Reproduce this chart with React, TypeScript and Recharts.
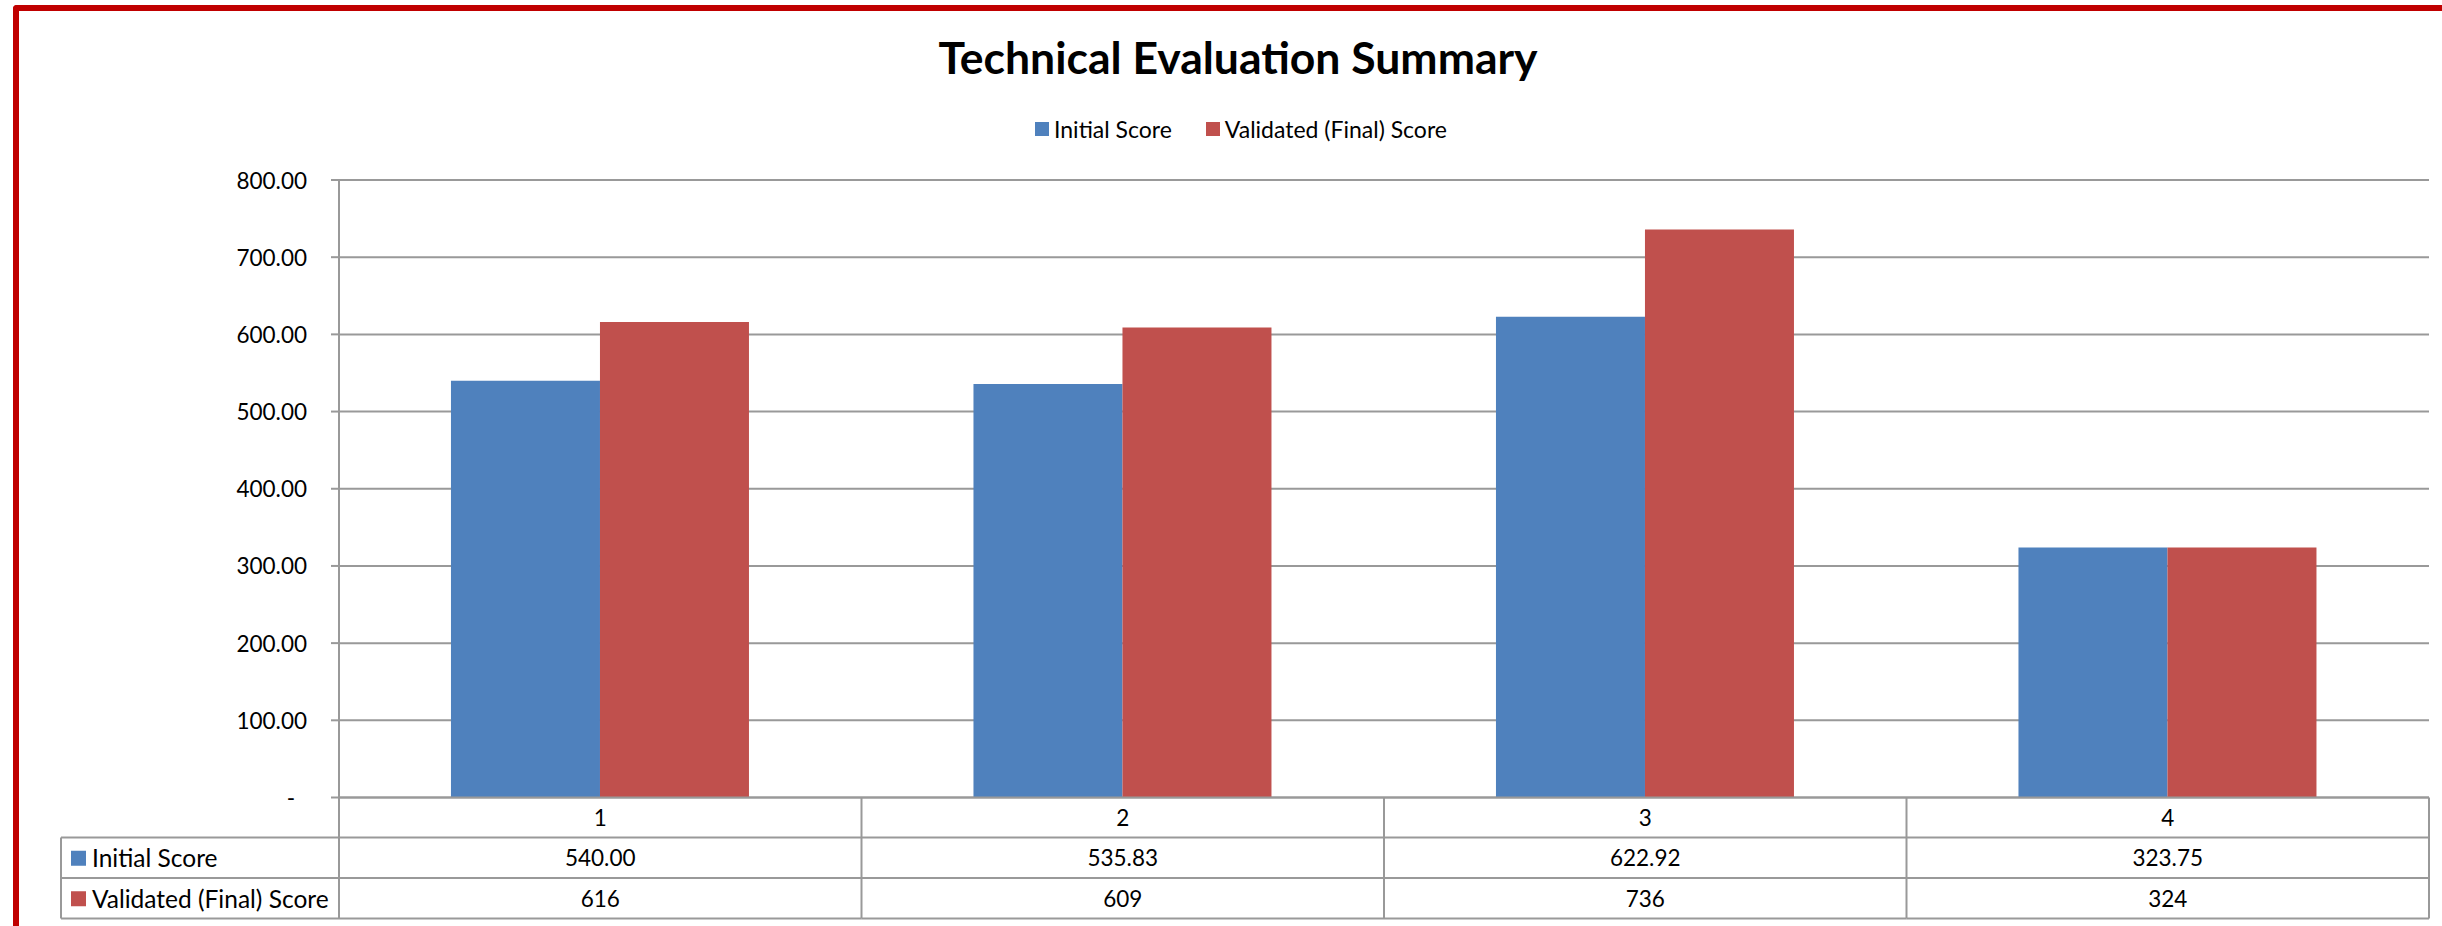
import { Bar, BarChart, CartesianGrid, XAxis, YAxis } from 'recharts'

const categories = ['1', '2', '3', '4']
const initialScore = [540.0, 535.83, 622.92, 323.75]
const finalScore = [616, 609, 736, 324]
const yTicks = [0, 100, 200, 300, 400, 500, 600, 700, 800]
const seriesNames = ['Initial Score', 'Validated (Final) Score']
const seriesColors = ['#4F81BD', '#C0504D']

const W = 2442
const H = 926
const PLOT_LEFT = 339
const PLOT_RIGHT = 2429
const PLOT_TOP = 180
const PLOT_BOTTOM = 797.5
const BAND = (PLOT_RIGHT - PLOT_LEFT) / categories.length
const ROWS = [PLOT_BOTTOM, 837.5, 878, 918.5]
const LABEL_LEFT = 61
const GRID = '#999999'
const FONT = 'Lato, "Open Sans", sans-serif'

const data = categories.map((c, i) => ({ cat: c, initial: initialScore[i], final: finalScore[i] }))

const fmtInitial = (v: number) => v.toFixed(2)
const fmtFinal = (v: number) => String(v)

function YTick({ x, y, payload }: any) {
  const v = payload.value as number
  return (
    <text
      x={v === 0 ? x - 12 : x}
      y={y}
      textAnchor="end"
      dominantBaseline="central"
      fontFamily={FONT}
      fontSize={22.5}
      fill="#000"
    >
      {v === 0 ? '-' : v.toFixed(2)}
    </text>
  )
}

function TableTick({ x, index }: any) {
  const left = x - BAND / 2
  const right = x + BAND / 2
  const mid = (a: number, b: number) => (a + b) / 2
  const txt = (cx: number, cy: number, s: string, anchor = 'middle', size = 22.5) => (
    <text x={cx} y={cy} textAnchor={anchor} dominantBaseline="central" fontFamily={FONT} fontSize={size} fill="#000">
      {s}
    </text>
  )
  return (
    <g>
      {index === 0 && (
        <g>
          <line x1={LABEL_LEFT} x2={left} y1={ROWS[1]} y2={ROWS[1]} stroke={GRID} strokeWidth={2} />
          <line x1={LABEL_LEFT} x2={left} y1={ROWS[2]} y2={ROWS[2]} stroke={GRID} strokeWidth={2} />
          <line x1={LABEL_LEFT} x2={left} y1={ROWS[3]} y2={ROWS[3]} stroke={GRID} strokeWidth={2} />
          <line x1={LABEL_LEFT} x2={LABEL_LEFT} y1={ROWS[1]} y2={ROWS[3]} stroke={GRID} strokeWidth={2} />
          <line x1={left} x2={left} y1={ROWS[0]} y2={ROWS[3]} stroke={GRID} strokeWidth={2} />
          {seriesNames.map((name, i) => (
            <g key={name}>
              <rect x={71} y={mid(ROWS[i + 1], ROWS[i + 2]) - 7} width={15} height={15} fill={seriesColors[i]} />
              {txt(92, mid(ROWS[i + 1], ROWS[i + 2]), name, 'start', 24.5)}
            </g>
          ))}
        </g>
      )}
      <line x1={right} x2={right} y1={ROWS[0]} y2={ROWS[3]} stroke={GRID} strokeWidth={2} />
      <line x1={left} x2={right} y1={ROWS[1]} y2={ROWS[1]} stroke={GRID} strokeWidth={2} />
      <line x1={left} x2={right} y1={ROWS[2]} y2={ROWS[2]} stroke={GRID} strokeWidth={2} />
      <line x1={left} x2={right} y1={ROWS[3]} y2={ROWS[3]} stroke={GRID} strokeWidth={2} />
      {txt(x, mid(ROWS[0], ROWS[1]), categories[index])}
      {txt(x, mid(ROWS[1], ROWS[2]), fmtInitial(initialScore[index]))}
      {txt(x, mid(ROWS[2], ROWS[3]), fmtFinal(finalScore[index]))}
    </g>
  )
}

export default function App() {
  return (
    <div style={{ position: 'absolute', left: 0, top: 0, width: W, height: H, overflow: 'hidden', background: '#fff' }}>
      <div
        style={{
          position: 'absolute',
          left: 13,
          top: 5,
          width: W + 40,
          height: H + 40,
          borderLeft: '6px solid #C00000',
          borderTop: '6px solid #C00000',
          borderTopLeftRadius: 4,
          boxSizing: 'border-box',
        }}
      />
      <div
        style={{
          position: 'absolute',
          left: 1238 - 500,
          width: 1000,
          top: 30,
          lineHeight: '54px',
          textAlign: 'center',
          fontFamily: FONT,
          fontWeight: 700,
          fontSize: 44.5,
          color: '#000',
        }}
      >
        Technical Evaluation Summary
      </div>
      <div
        style={{
          position: 'absolute',
          left: 1241 - 500,
          width: 1000,
          top: 115,
          lineHeight: '28px',
          display: 'flex',
          justifyContent: 'center',
          gap: 34,
          fontFamily: FONT,
          fontSize: 23,
          color: '#000',
        }}
      >
        {seriesNames.map((name, i) => (
          <div key={name} style={{ display: 'flex', alignItems: 'center', gap: 5 }}>
            <span style={{ width: 14, height: 14, background: seriesColors[i], display: 'inline-block' }} />
            <span>{name}</span>
          </div>
        ))}
      </div>
      <div style={{ position: 'absolute', left: 0, top: 0 }}>
        <BarChart
          width={W}
          height={H}
          data={data}
          margin={{ top: PLOT_TOP, right: W - PLOT_RIGHT, bottom: 7, left: PLOT_LEFT - 100 }}
          barCategoryGap="21.43%"
          barGap={0}
        >
          <CartesianGrid horizontal vertical={false} stroke={GRID} strokeWidth={2} />
          <XAxis
            dataKey="cat"
            height={H - 7 - PLOT_BOTTOM}
            axisLine={{ stroke: GRID, strokeWidth: 2 }}
            tickLine={false}
            tick={<TableTick />}
            interval={0}
          />
          <YAxis
            width={100}
            domain={[0, 800]}
            ticks={yTicks}
            tickSize={8}
            tickMargin={24}
            axisLine={{ stroke: GRID, strokeWidth: 2 }}
            tickLine={{ stroke: GRID, strokeWidth: 2 }}
            tick={<YTick />}
          />
          <Bar dataKey="initial" name={seriesNames[0]} fill={seriesColors[0]} isAnimationActive={false} />
          <Bar dataKey="final" name={seriesNames[1]} fill={seriesColors[1]} isAnimationActive={false} />
        </BarChart>
      </div>
    </div>
  )
}
